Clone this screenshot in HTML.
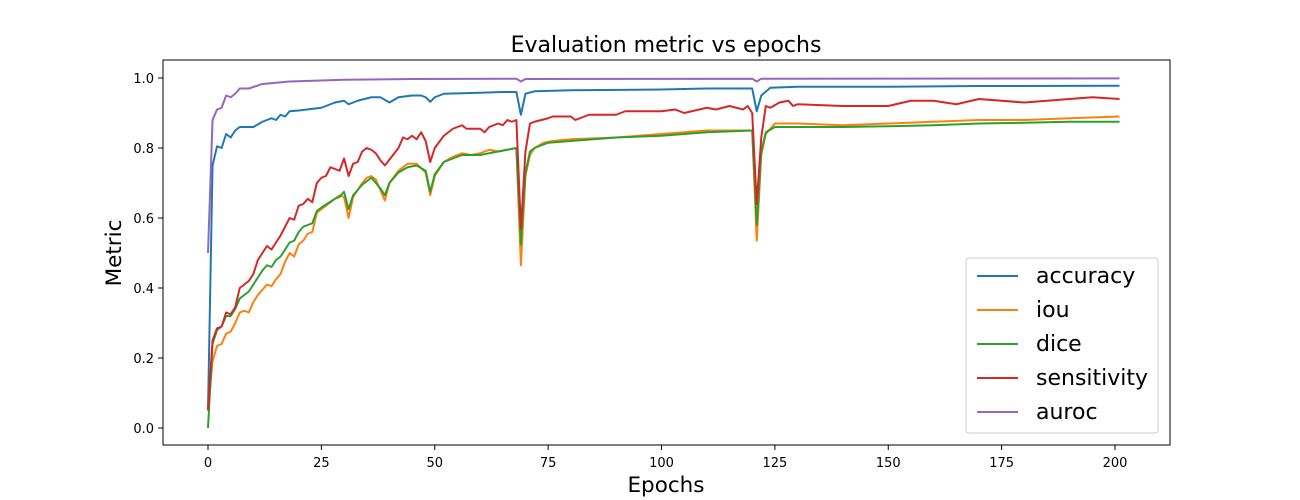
<!DOCTYPE html>
<html><head><meta charset="utf-8"><style>
body{margin:0;background:#fff;}
svg{display:block;font-family:"DejaVu Sans","Liberation Sans",sans-serif;}
</style></head><body>
<svg id="chart" width="1300" height="500">
<rect x="0" y="0" width="1300" height="500" fill="#fff"/>
<text x="666" y="52" font-size="22" text-anchor="middle">Evaluation metric vs epochs</text>
<g id="axes"></g>
<g id="lines"></g>
<text x="666" y="492" font-size="21.5" text-anchor="middle">Epochs</text>
<text x="0" y="0" font-size="21.5" text-anchor="middle" transform="translate(121,253) rotate(-90)">Metric</text>
<rect x="163" y="60" width="1007" height="385" fill="none" stroke="#000" stroke-width="1"/>
<g id="legend"></g>
</svg>
<script>
const seriesNames=["accuracy","iou","dice","sensitivity","auroc"];
const seriesColors=["#1f77b4","#ff7f0e","#2ca02c","#d62728","#9467bd"];
const xTicks=[0,25,50,75,100,125,150,175,200];
const yTicks=[0.0,0.2,0.4,0.6,0.8,1.0];
const accEpochs=[0,1,2,3,4,5,6,7,10,12,14,15,16,17,18,20,25,28,30,31,33,36,38,40,42,45,47,48,49,50,52,60,65,68,69,70,72,80,100,110,120,121,122,124,130,150,170,201];
const accValues=[0.05,0.75,0.805,0.80,0.84,0.83,0.85,0.86,0.86,0.875,0.885,0.88,0.895,0.89,0.905,0.907,0.915,0.93,0.935,0.925,0.935,0.945,0.945,0.93,0.945,0.95,0.95,0.945,0.932,0.945,0.955,0.958,0.96,0.96,0.895,0.955,0.962,0.965,0.967,0.97,0.97,0.905,0.95,0.972,0.975,0.975,0.977,0.978];
const aurocEpochs=[0,1,2,3,4,5,6,7,9,12,18,30,45,68,69,70,120,121,122,201];
const aurocValues=[0.5,0.88,0.91,0.915,0.95,0.945,0.955,0.97,0.97,0.983,0.99,0.995,0.997,0.998,0.99,0.997,0.998,0.99,0.998,0.999];
const sensEpochs=[0,1,2,3,4,5,6,7,8,9,10,11,12,13,14,15,16,17,18,19,20,21,22,23,24,25,26,27,28,29,30,31,32,33,34,35,36,37,38,39,42,43,44,45,46,47,48,49,50,52,54,56,57,60,61,62,64,65,66,67,68,69,70,71,72,75,76,80,81,84,90,92,100,103,105,110,112,115,118,119,120,121,122,123,124,126,128,129,130,140,150,155,160,165,170,180,190,195,201];
const sensValues=[0.05,0.25,0.285,0.29,0.33,0.325,0.345,0.40,0.41,0.42,0.44,0.48,0.50,0.52,0.51,0.53,0.55,0.575,0.60,0.595,0.635,0.64,0.655,0.645,0.70,0.715,0.72,0.745,0.74,0.735,0.77,0.72,0.755,0.76,0.79,0.80,0.795,0.785,0.765,0.75,0.80,0.83,0.825,0.835,0.825,0.845,0.82,0.76,0.80,0.835,0.855,0.865,0.855,0.855,0.845,0.86,0.87,0.865,0.88,0.875,0.88,0.57,0.79,0.87,0.875,0.885,0.89,0.89,0.88,0.895,0.895,0.905,0.905,0.91,0.90,0.915,0.91,0.92,0.91,0.92,0.90,0.64,0.83,0.92,0.915,0.93,0.935,0.92,0.925,0.92,0.92,0.935,0.935,0.925,0.94,0.93,0.94,0.945,0.94];
const iouEpochs=[0,1,2,3,4,5,6,7,8,9,10,11,12,13,14,15,16,17,18,19,20,21,22,23,24,25,28,29,30,31,32,34,35,36,37,38,39,40,42,44,46,48,49,50,52,54,56,58,60,62,64,66,68,69,70,71,72,74,76,80,90,100,110,115,120,121,122,123,125,130,140,150,160,170,180,190,201];
const iouValues=[0.05,0.19,0.235,0.24,0.27,0.275,0.30,0.33,0.335,0.33,0.36,0.38,0.395,0.41,0.405,0.425,0.44,0.475,0.50,0.49,0.525,0.535,0.555,0.56,0.615,0.625,0.655,0.665,0.66,0.60,0.66,0.70,0.715,0.72,0.71,0.68,0.65,0.70,0.735,0.755,0.755,0.73,0.665,0.72,0.76,0.775,0.785,0.78,0.785,0.795,0.79,0.795,0.80,0.465,0.72,0.78,0.80,0.815,0.82,0.825,0.83,0.84,0.85,0.85,0.85,0.535,0.78,0.84,0.87,0.87,0.865,0.87,0.875,0.88,0.88,0.885,0.89];
const diceEpochs=[0,1,2,3,4,5,6,7,8,9,10,11,12,13,14,15,16,17,18,19,20,21,22,23,24,25,28,29,30,31,32,34,36,38,39,40,42,44,46,48,49,50,52,54,56,60,64,68,69,70,71,72,75,80,90,100,110,120,121,122,123,125,130,140,150,160,170,180,190,201];
const diceValues=[0.0,0.24,0.28,0.29,0.32,0.32,0.34,0.37,0.38,0.39,0.41,0.43,0.45,0.465,0.46,0.48,0.49,0.51,0.53,0.535,0.56,0.575,0.58,0.585,0.62,0.63,0.655,0.66,0.675,0.625,0.665,0.695,0.715,0.685,0.665,0.70,0.73,0.745,0.75,0.735,0.675,0.725,0.76,0.77,0.78,0.78,0.79,0.80,0.525,0.73,0.79,0.80,0.815,0.82,0.83,0.835,0.845,0.85,0.58,0.79,0.845,0.86,0.86,0.86,0.862,0.865,0.87,0.872,0.875,0.875];

const NS="http://www.w3.org/2000/svg";
const X=e=>208+e*(1115-208)/200;
const Y=v=>428-v*350;
const axes=document.getElementById('axes');
xTicks.forEach(t=>{
  const l=document.createElementNS(NS,'line');
  l.setAttribute('x1',X(t));l.setAttribute('x2',X(t));l.setAttribute('y1',445);l.setAttribute('y2',450);l.setAttribute('stroke','#000');
  
  
  axes.appendChild(l);
  const tx=document.createElementNS(NS,'text');
  tx.setAttribute('x',X(t));tx.setAttribute('y',467);tx.setAttribute('font-size','13');tx.setAttribute('text-anchor','middle');
  tx.textContent=t;
  
  
  axes.appendChild(tx);
});
yTicks.forEach(t=>{
  const l=document.createElementNS(NS,'line');
  l.setAttribute('x1',158);l.setAttribute('x2',163);l.setAttribute('y1',Y(t));l.setAttribute('y2',Y(t));l.setAttribute('stroke','#000');
  
  
  axes.appendChild(l);
  const tx=document.createElementNS(NS,'text');
  tx.setAttribute('x',154);tx.setAttribute('y',Y(t)+5);tx.setAttribute('font-size','13');tx.setAttribute('text-anchor','end');
  tx.textContent=t.toFixed(1);
  
  
  axes.appendChild(tx);
});
const allE=[accEpochs,iouEpochs,diceEpochs,sensEpochs,aurocEpochs];
const allV=[accValues,iouValues,diceValues,sensValues,aurocValues];
const lines=document.getElementById('lines');
for(let s=0;s<5;s++){
  const p=document.createElementNS(NS,'polyline');
  p.setAttribute('points',allE[s].map((e,i)=>X(e)+','+Y(allV[s][i])).join(' '));
  p.setAttribute('fill','none');p.setAttribute('stroke',seriesColors[s]);p.setAttribute('stroke-width','2');p.setAttribute('stroke-linejoin','round');
  
  
  lines.appendChild(p);
}
const lg=document.getElementById('legend');
const box=document.createElementNS(NS,'rect');
box.setAttribute('x',966);box.setAttribute('y',258);box.setAttribute('width',192);box.setAttribute('height',175);box.setAttribute('rx',3);
box.setAttribute('fill','#fff');box.setAttribute('fill-opacity','0.8');box.setAttribute('stroke','#ccc');


lg.appendChild(box);
for(let s=0;s<5;s++){
  const y=276+s*34;
  const l=document.createElementNS(NS,'line');
  l.setAttribute('x1',977);l.setAttribute('x2',1018);l.setAttribute('y1',y);l.setAttribute('y2',y);l.setAttribute('stroke',seriesColors[s]);l.setAttribute('stroke-width','2');
  
  
  lg.appendChild(l);
  const t=document.createElementNS(NS,'text');
  t.setAttribute('x',1036);t.setAttribute('y',y+7);t.setAttribute('font-size','22');
  t.textContent=seriesNames[s];
  
  
  lg.appendChild(t);
}
</script>
</body></html>
